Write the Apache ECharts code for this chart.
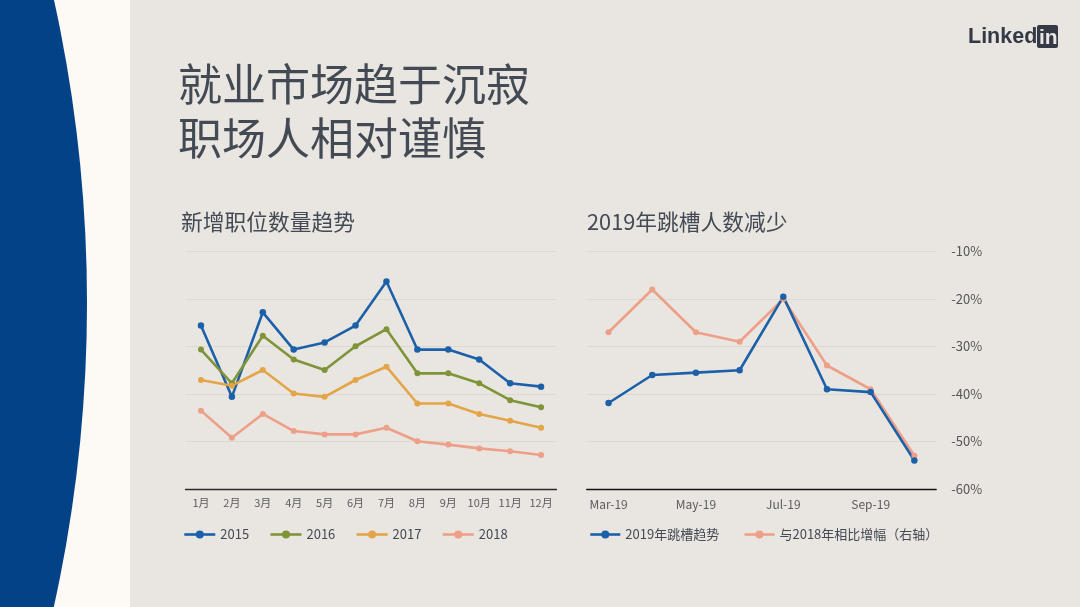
<!DOCTYPE html>
<html><head><meta charset="utf-8">
<style>html,body{margin:0;padding:0;background:#e9e6e1}#c{width:1080px;height:607px}</style>
<script src="https://cdn.jsdelivr.net/npm/echarts@6/dist/echarts.min.js"></script>
</head><body><div id="c"></div>
<script>
const months = ['1月','2月','3月','4月','5月','6月','7月','8月','9月','10月','11月','12月'];
const y2015 = [68.8,38.8,74.4,58.7,61.7,68.8,87.4,58.7,58.7,54.5,44.5,43.1];
const y2016 = [58.7,44.5,64.5,54.5,50.1,60.1,67.3,48.7,48.7,44.5,37.4,34.4];
const y2017 = [45.9,43.5,50.1,40.2,38.8,45.9,51.5,36.0,36.0,31.6,28.7,25.8];
const y2018 = [33.0,21.6,31.6,24.4,23.0,23.0,25.8,20.1,18.7,17.1,15.9,14.3];
const moves = ['Mar-19','Apr-19','May-19','Jun-19','Jul-19','Aug-19','Sep-19','Oct-19'];
const trend2019 = [-41.9,-36.0,-35.5,-35.0,-19.5,-39.0,-39.6,-54.0];
const vs2018 = [-27,-18,-27,-29,-20,-34,-39,-53];

const FONT = '"Noto Sans CJK SC","Noto Sans",sans-serif';
const BLUE='#1b60a8', GREEN='#7f9438', ORANGE='#e3a548', SALMON='#ee9f87';
const TXT='#434a54', GRID='#dcd8d2';
const chart = echarts.init(document.getElementById('c'),null,{renderer:'canvas'});
function line(name,data,color,xi,yi,size){
  return {name,type:'line',data,xAxisIndex:xi,yAxisIndex:yi,symbol:'circle',symbolSize:size,
    lineStyle:{color,width:2.6},itemStyle:{color},showSymbol:true,z:3,animation:false};
}
chart.setOption({
  animation:false,
  backgroundColor:'#e9e6e1',
  graphic:[
    {type:'rect',z:0,silent:true,shape:{x:0,y:0,width:130,height:607},style:{fill:'#fdf9f4'}},
    {type:'circle',z:0,silent:true,shape:{cx:-1320,cy:303,r:1407},style:{fill:'#034286'}},
    {type:'text',z:1,silent:true,x:178,y:62,style:{text:'就业市场趋于沉寂',font:`400 44px ${FONT}`,fill:TXT}},
    {type:'text',z:1,silent:true,x:178,y:116,style:{text:'职场人相对谨慎',font:`400 44px ${FONT}`,fill:TXT}},
    {type:'text',z:1,silent:true,x:181,y:211,style:{text:'新增职位数量趋势',font:`21.75px ${FONT}`,fill:TXT}},
    {type:'text',z:1,silent:true,x:587,y:211,style:{text:'2019年跳槽人数减少',font:`21.75px ${FONT}`,fill:TXT}},
    {type:'text',z:1,silent:true,x:968,y:26,style:{text:'Linked',font:`bold 21.5px "Liberation Sans",sans-serif`,fill:'#333a45'}},
    {type:'rect',z:1,silent:true,shape:{x:1037,y:25,width:21,height:23,r:2},style:{fill:'#333a45'}},
    {type:'text',z:2,silent:true,x:1039,y:28,style:{text:'in',font:`bold 21px "Liberation Sans",sans-serif`,fill:'#e9e6e1'}}
  ],
  grid:[
    {left:185.5,top:251.5,width:371,height:237.5},
    {left:586.7,top:251.5,width:349.5,height:237.5}
  ],
  xAxis:[
    {gridIndex:0,type:'category',data:months,boundaryGap:true,axisTick:{show:false},
     axisLine:{lineStyle:{color:'#2a2a2a',width:1.4}},
     axisLabel:{color:'#5c5c5c',fontSize:11,margin:8,fontFamily:FONT,interval:0}},
    {gridIndex:1,type:'category',data:moves,boundaryGap:true,axisTick:{show:false},
     axisLine:{lineStyle:{color:'#111',width:1.4}},
     axisLabel:{color:'#5c5c5c',fontSize:12,margin:9,fontFamily:FONT,interval:1}}
  ],
  yAxis:[
    {gridIndex:0,type:'value',min:0,max:100,interval:20,axisLine:{show:false},axisTick:{show:false},
     axisLabel:{show:false},splitLine:{lineStyle:{color:GRID,width:1}}},
    {gridIndex:1,type:'value',position:'right',min:-60,max:-10,interval:10,axisLine:{show:false},axisTick:{show:false},
     axisLabel:{color:'#555',fontSize:13,margin:15,fontFamily:FONT,formatter:v=>v+'%'},
     splitLine:{lineStyle:{color:GRID,width:1}}}
  ],
  legend:[
    {data:['2015','2016','2017','2018'],left:178,top:523,itemWidth:31,itemHeight:10,itemGap:20,
     lineStyle:{width:2.6},
     textStyle:{color:TXT,fontSize:13,fontFamily:FONT}},
    {data:['2019年跳槽趋势','与2018年相比增幅（右轴）'],left:584,top:523,itemWidth:30,itemHeight:10,itemGap:24,
     lineStyle:{width:2.6},
     textStyle:{color:TXT,fontSize:13,fontFamily:FONT}}
  ],
  series:[
    line('2015',y2015,BLUE,0,0,6.5),
    line('2016',y2016,GREEN,0,0,6),
    line('2017',y2017,ORANGE,0,0,6),
    line('2018',y2018,SALMON,0,0,6),
    line('与2018年相比增幅（右轴）',vs2018,SALMON,1,1,6),
    line('2019年跳槽趋势',trend2019,BLUE,1,1,6.5)
  ]
});
</script></body></html>
